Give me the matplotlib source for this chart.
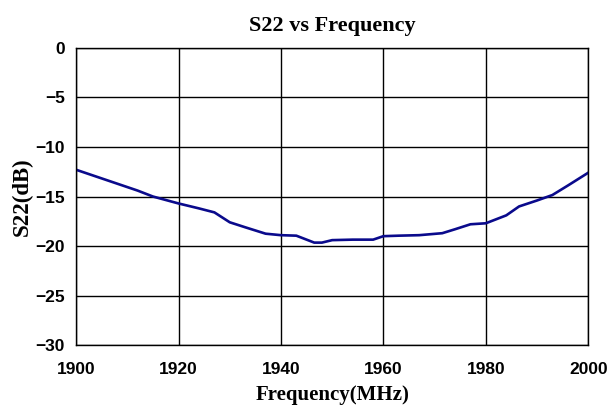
import matplotlib
matplotlib.use("Agg")
import matplotlib.pyplot as plt

# S22 readings taken from the reference chart
freq = [1900, 1904, 1908, 1912, 1915, 1920, 1924, 1927, 1930, 1933, 1937,
        1940, 1943, 1946.5, 1948, 1950, 1954, 1958, 1960, 1963, 1967,
        1971.5, 1974, 1977, 1980, 1982, 1984, 1986.5, 1990, 1993, 1996, 2000]
s22 = [-12.3, -13.0, -13.7, -14.4, -15.0, -15.7, -16.2, -16.6, -17.6, -18.1, -18.75,
       -18.9, -18.95, -19.65, -19.65, -19.4, -19.35, -19.35, -19.0, -18.95, -18.9,
       -18.7, -18.3, -17.8, -17.7, -17.3, -16.9, -16.0, -15.4, -14.85, -13.9, -12.6]

xticks = [1900, 1920, 1940, 1960, 1980, 2000]
yticks = [0, -5, -10, -15, -20, -25, -30]

fig = plt.figure(figsize=(6.14, 4.09), dpi=100)
ax = fig.add_axes([0.124, 0.156, 0.834, 0.727])

ax.plot(freq, s22, color="#0a0a8c", linewidth=1.9)

ax.set_xlim(1900, 2000)
ax.set_ylim(-30, 0)
ax.set_xticks(xticks)
ax.set_yticks(yticks)
ax.set_yticklabels([str(v).replace("-", "\u2212") for v in yticks])
ax.grid(True, color="black", linewidth=1.0)
ax.tick_params(axis="x", length=0, pad=12)
ax.tick_params(axis="y", length=0, pad=8)
for lbl in ax.get_xticklabels() + ax.get_yticklabels():
    lbl.set_fontfamily("Liberation Sans")
    lbl.set_fontweight("bold")
    lbl.set_fontsize(12.5)
for sp in ax.spines.values():
    sp.set_color("black")
    sp.set_linewidth(1.0)

ax.set_title("S22 vs Frequency", fontfamily="Liberation Serif", fontweight="bold",
             fontsize=16, pad=12)
ax.set_xlabel("Frequency(MHz)", fontfamily="Liberation Serif", fontweight="bold",
              fontsize=15, labelpad=6)
ax.set_ylabel("S22(dB)", fontfamily="Liberation Serif", fontweight="bold",
              fontsize=16.5, labelpad=2)

fig.savefig("out.png", dpi=100)
